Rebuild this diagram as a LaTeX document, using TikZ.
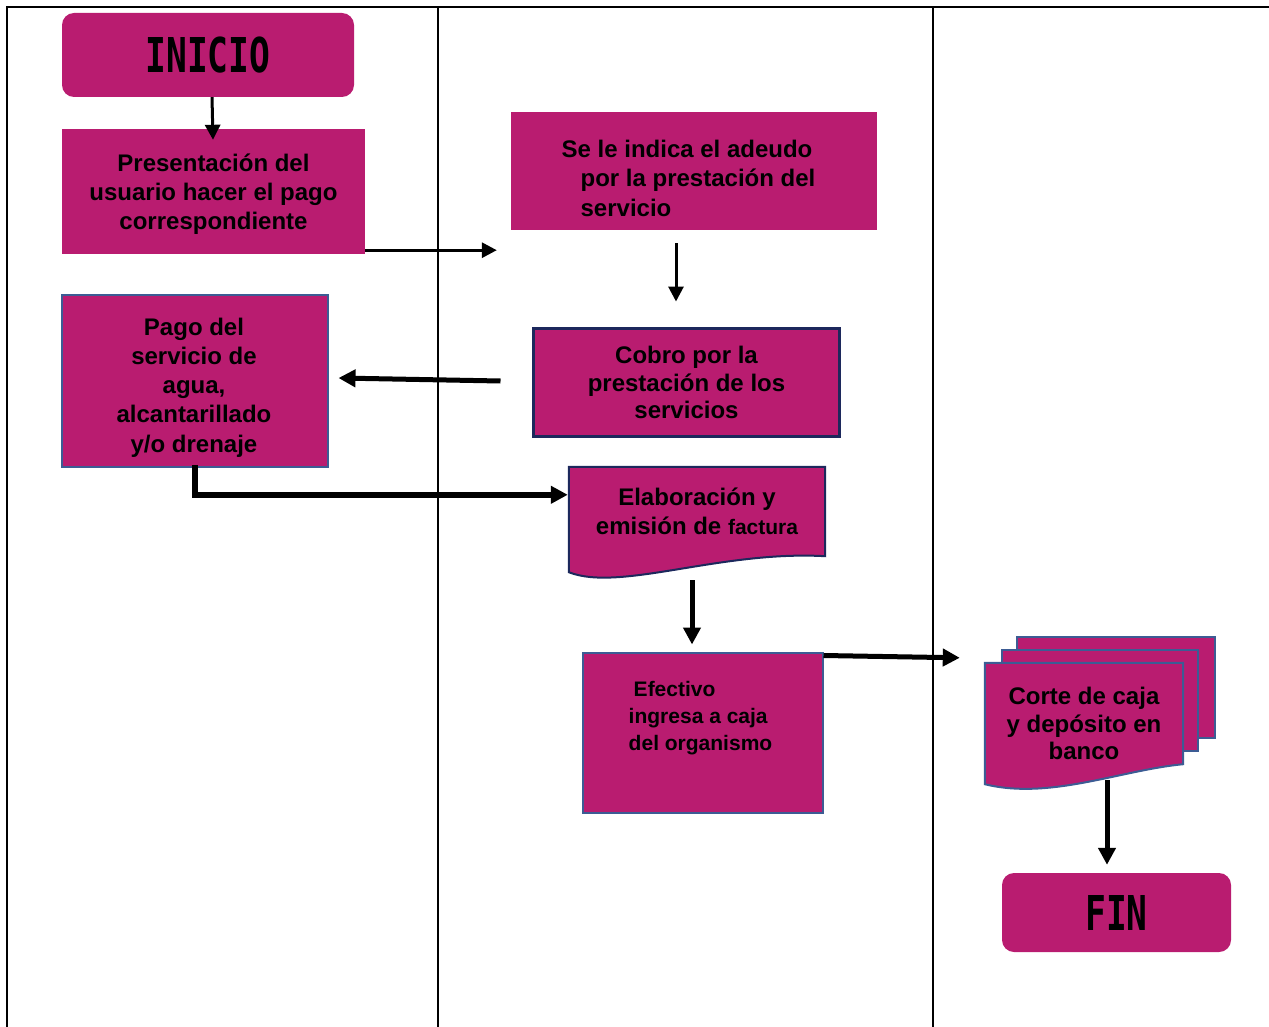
\documentclass[tikz,border=0pt]{standalone}
\usepackage{fontspec}
\usepackage{graphicx}
\setmainfont{Liberation Sans}
\newfontfamily\monofam{DejaVu Sans Mono}
\usetikzlibrary{arrows.meta,backgrounds,calc}
\definecolor{mag}{RGB}{185,28,112}
\definecolor{edgeblue}{RGB}{60,92,148}
\definecolor{navyedge}{RGB}{28,40,92}
\begin{document}
\begin{tikzpicture}[x=1pt,y=-1pt,
  term/.style={fill=mag, draw=none, rounded corners=12pt, inner sep=0pt,
    font=\monofam\bfseries\fontsize{48}{48}\selectfont},
  proc/.style={fill=mag, draw=none, inner sep=0pt, align=center,
    font=\bfseries\fontsize{24}{29}\selectfont},
  lbl/.style={inner sep=0pt, align=center, font=\bfseries\fontsize{24}{29}\selectfont},
  flow/.style={line width=3pt, -{Triangle[length=15pt,width=15pt]}},
  bigflow/.style={line width=5pt, -{Triangle[length=17pt,width=17pt]}},
  lane/.style={line width=2.2pt}
]
\useasboundingbox (0,0) rectangle (1269,1027);
% lanes
\draw[lane] (7,1027) -- (7,7) -- (1269,7);
\draw[line width=1.8pt] (438,7) -- (438,1027);
\draw[lane] (933,7) -- (933,1027);

% nodes
\node[term, minimum width=292pt, minimum height=84pt] (inicio) at (208,55) {\scalebox{0.72}[1]{INICIO}};
\node[proc, minimum width=303pt, minimum height=125pt] (pres) at (213.5,191.5) {};
\node[lbl] (pres-t) at (213.5,194.5)
  {Presentación del\\usuario hacer el pago\\correspondiente};
\node[proc, minimum width=366pt, minimum height=118pt] (adeudo) at (694,171) {};
\node[lbl, align=left, font=\bfseries\fontsize{24}{29.5}\selectfont] (adeudo-t) at (698,178)
  {\hspace*{-19pt}Se le indica el adeudo\\por la prestación del\\servicio};
\node[proc, draw=navyedge, line width=3pt, minimum width=306pt, minimum height=108pt,
  font=\bfseries\fontsize{24}{27.5}\selectfont] (cobro) at (686.5,382.5)
  {Cobro por la\\prestación de los\\servicios};
\node[proc, draw=edgeblue, line width=2pt, minimum width=266pt, minimum height=172pt] (pago) at (194.5,380.5) {};
\node[lbl, font=\bfseries\fontsize{24}{29.25}\selectfont] (pago-t) at (194,387.5)
  {Pago del\\servicio de\\agua,\\alcantarillado\\y/o drenaje};
\node[lbl, minimum width=256pt, minimum height=89pt] (elab) at (697,511.5)
  {Elaboración y\\emisión de {\fontsize{21}{29}\selectfont factura}};
\node[proc, draw=edgeblue, line width=2pt, minimum width=240pt, minimum height=160pt] (efec) at (702.5,732.5) {};
\node[lbl, align=left, font=\bfseries\fontsize{21}{27}\selectfont] (efec-t) at (700.5,718)
  {\hspace*{5pt}Efectivo\\ingresa a caja\\del organismo};
\node[inner sep=0pt, minimum width=198pt, minimum height=101pt] (corte) at (1084,713.5) {};
\node[term, minimum width=229pt, minimum height=79pt] (fin) at (1116.5,912.5) {\scalebox{0.72}[1]{FIN}};

\begin{scope}[on background layer]
  \draw[fill=mag, draw=navyedge, line width=2pt]
    (elab.south east) -- (elab.north east) -- (elab.north west) -- ($(elab.south west)+(0,16)$)
    .. controls ($(elab.south west)+(51,36)$) and ($(elab.south east)+(-105,-6)$) .. (elab.south east) -- cycle;
  \node[fill=mag, draw=edgeblue, line width=2pt, inner sep=0pt, minimum width=198pt, minimum height=101pt] (corte-3) at (1116,687.5) {};
  \node[fill=mag, draw=edgeblue, line width=2pt, inner sep=0pt, minimum width=196pt, minimum height=101pt] (corte-2) at (1100,700.5) {};
  \draw[fill=mag, draw=edgeblue, line width=2pt]
    (corte.north west) -- (corte.north east) -- (corte.south east)
    .. controls ($(corte.south east)+(-63,6)$) and ($(corte.south west)+(65,36)$) .. ($(corte.south west)+(0,20)$) -- cycle;
\end{scope}
\node[lbl, font=\bfseries\fontsize{24}{27.5}\selectfont] (corte-t) at (1084,723.5)
  {Corte de caja\\y depósito en\\banco};

% connectors
\draw[flow] ([xshift=4pt]inicio.south) -- ($(pres.north)+(-0.5,11)$);
\draw[flow] ($(pres.south east)+(0,-4)$) -- ($(adeudo.south west)+(-14,20)$);
\draw[flow] ($(adeudo.south)+(-18,13)$) -- ($(cobro.north)+(-10.5,-25.5)$);
\draw[bigflow] ($(cobro.west)+(-31.5,-1.5)$) -- ($(pago.east)+(10,-2.5)$);
\draw[line width=6pt, -{Triangle[length=17pt,width=17pt]}] ($(pago.south)+(0,-3)$) |- ($(elab.north west)+(-1,28)$);
\draw[bigflow] ($(elab.south)+(-5,24)$) -- ($(efec.north)+(-10.5,-7)$);
\draw[bigflow] ($(efec.north east)+(0,4)$) -- ($(corte.north west)+(-25,-5)$);
\draw[bigflow] ($(corte.south)+(23,16)$) -- ($(fin.north)+(-9.5,-8)$);
\end{tikzpicture}
\end{document}
